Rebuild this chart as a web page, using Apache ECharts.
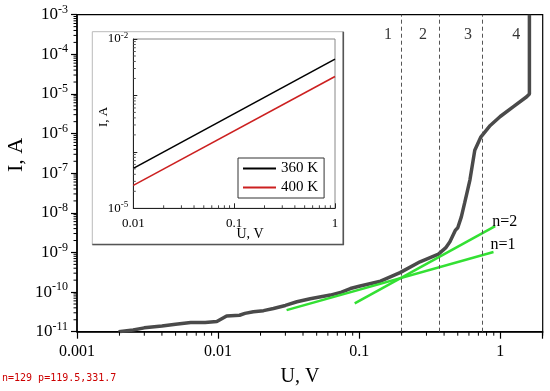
<!DOCTYPE html>
<html>
<head>
<meta charset="utf-8">
<script src="https://cdn.jsdelivr.net/npm/echarts@6/dist/echarts.min.js"></script>
<style>
html,body{margin:0;padding:0;background:#fff;}
#chart{width:550px;height:391px;}
#dbg{position:absolute;left:2px;top:372px;font:10px monospace;color:#c00;}
</style>
</head>
<body>
<div id="chart"></div>
<div id="dbg"></div>
<script>
var dbg=[];
window.onerror=function(m){dbg.push('ERR:'+m);};
// ---- main I-V curve (U in V, I in A) ----
var mainU = [0.00197,0.0025,0.003,0.004,0.005,0.0064,0.0081,0.0098,0.0115,0.0142,0.0155,0.0178,0.021,0.0247,0.03,0.0362,0.045,0.0625,0.075,0.0867,0.1,0.1417,0.195,0.27,0.365,0.41,0.44,0.48,0.50,0.53,0.56,0.58,0.61,0.66,0.73,0.85,1.0,1.24,1.54,1.61,1.61];
var mainI = [1.0e-11,1.1e-11,1.25e-11,1.4e-11,1.55e-11,1.7e-11,1.7e-11,1.8e-11,2.5e-11,2.6e-11,2.9e-11,3.2e-11,3.4e-11,3.85e-11,4.6e-11,5.7e-11,6.8e-11,8.4e-11,1.0e-10,1.23e-10,1.4e-10,1.88e-10,3.1e-10,5.8e-10,9.1e-10,1.3e-9,1.86e-9,3.6e-9,4.2e-9,7.9e-9,1.8e-8,3.1e-8,6.8e-8,3.8e-7,8.3e-7,1.6e-6,2.7e-6,4.8e-6,8.5e-6,1.0e-5,1.0e-3];
// ---- fit lines ----
var n1U = [0.0306, 0.896];
var n1I = [3.5e-11, 1.03e-9];
var n2U = [0.093, 0.921];
var n2I = [5.2e-11, 4.6e-9];
// ---- region boundaries and labels ----
var boundaryU = [0.2, 0.366, 0.745];
var regionNames = ['1','2','3','4'];
var regionU = [0.16, 0.283, 0.59, 1.30];
var regionI = [3.1e-4, 3.1e-4, 3.1e-4, 3.1e-4];
// ---- inset ----
var insetU = [0.01, 1];
var inset360 = [5.1e-5, 4.4e-3];
var inset400 = [2.55e-5, 2.16e-3];
var insetNames = ['360 K','400 K'];

function zip(a,b){return a.map(function(v,i){return [v,b[i]];});}
function logMinor(lo, top){var r=[];for(var e=lo;Math.pow(10,e)<top;e++){for(var k=2;k<=9;k++){var v=k*Math.pow(10,e);if(v<=top*1.0001)r.push(v);}}return r;}
function powLabel(v){var e=Math.round(Math.log10(v));return '{b|10}{s|'+e+'}';}
function decLabel(v){var l=Math.log10(v);if(Math.abs(l-Math.round(l))>1e-6)return '';return String(+v.toPrecision(1));}

var F = 'Liberation Serif';
var mainRich = {b:{fontSize:17,fontFamily:F,color:'#000'},s:{fontSize:12,fontFamily:F,color:'#000',padding:[0,0,10,0]}};
var insetRich = {b:{fontSize:13,fontFamily:F,color:'#000'},s:{fontSize:9,fontFamily:F,color:'#000',padding:[0,0,7,0]}};

var chart = echarts.init(document.getElementById('chart'));
var option = {
  animation:false,
  backgroundColor:'#fff',
  grid:[
    {left:77,top:14.7,right:7.3,bottom:59.3,show:true,borderColor:'#000',borderWidth:1.2},
    {left:133.3,top:39,right:215,bottom:182.7,show:true,borderColor:'#888',borderWidth:1}
  ],
  xAxis:[
    {type:'log',gridIndex:0,position:'bottom',min:0.001,max:2,
     axisLine:{lineStyle:{color:'#000',width:1.5}},
     axisTick:{inside:false,length:7,lineStyle:{color:'#000',width:1.2}},
     axisLabel:{margin:12,fontSize:16,fontFamily:F,color:'#000',formatter:decLabel},
     splitLine:{show:false}},
    {type:'log',gridIndex:1,position:'bottom',min:0.01,max:1,
     axisLine:{lineStyle:{color:'#222',width:1}},
     axisTick:{inside:true,length:5,lineStyle:{color:'#222'}},
     axisLabel:{margin:9,fontSize:13,fontFamily:F,color:'#000',formatter:decLabel},
     splitLine:{show:false}}
  ],
  yAxis:[
    {type:'log',gridIndex:0,position:'left',min:1e-11,max:1e-3,
     axisLine:{lineStyle:{color:'#000',width:1.5}},
     axisTick:{inside:false,length:6,lineStyle:{color:'#000',width:1.2}},
     axisLabel:{margin:9,formatter:powLabel,rich:mainRich},
     splitLine:{show:false}},
    {type:'log',gridIndex:1,position:'left',min:1e-5,max:1e-2,
     axisLine:{lineStyle:{color:'#222',width:1}},
     axisTick:{inside:true,length:4,lineStyle:{color:'#222'}},
     axisLabel:{margin:5,formatter:function(v){var e=Math.round(Math.log10(v));return (e===-2||e===-5)?powLabel(v):'';},rich:insetRich},
     splitLine:{show:false}}
  ],
  legend:{
    data:insetNames,left:238,top:158,orient:'vertical',
    borderColor:'#333',borderWidth:1,padding:[3,6,3,5],
    itemWidth:33,itemHeight:2,icon:'rect',itemGap:4,
    textStyle:{fontSize:15,fontFamily:F,color:'#000'}
  },
  graphic:{elements:[
    {id:'s0',type:'rect',z:-10,shape:{x:92.3,y:31.7,width:251,height:213},style:{fill:'#fff',stroke:'#bbb',lineWidth:1}},
    {id:'s1',type:'polyline',z:-9,shape:{points:[[343.3,31.7],[343.3,244.5],[92.3,244.5]]},style:{stroke:'#555',lineWidth:1.6,fill:null}},
    {id:'s2',type:'text',x:16,y:155,rotation:Math.PI/2,style:{text:'I, A',font:'22px "Liberation Serif"',fill:'#000',align:'center',verticalAlign:'middle'}},
    {id:'s3',type:'text',x:300,y:377,style:{text:'U, V',font:'20px "Liberation Serif"',fill:'#000',align:'center',verticalAlign:'middle'}},
    {id:'s4',type:'text',x:104,y:117,rotation:Math.PI/2,style:{text:'I, A',font:'13px "Liberation Serif"',fill:'#000',align:'center',verticalAlign:'middle'}},
    {id:'s5',type:'text',x:250,y:234,style:{text:'U, V',font:'14px "Liberation Serif"',fill:'#000',align:'center',verticalAlign:'middle'}}
  ]},
  series:[
    {name:'I-V',type:'line',xAxisIndex:0,yAxisIndex:0,data:zip(mainU,mainI),showSymbol:false,
     lineStyle:{color:'#4a4a4a',width:3.5},itemStyle:{color:'#4a4a4a'},z:3,
     markLine:{silent:true,symbol:'none',label:{show:false},
       lineStyle:{type:[4,3],color:'#555',width:1},
       data:boundaryU.map(function(u){return {xAxis:u};})}},
    {name:'n=1',type:'line',xAxisIndex:0,yAxisIndex:0,data:zip(n1U,n1I),showSymbol:false,
     lineStyle:{color:'#33e033',width:2.5},itemStyle:{color:'#33e033'},z:4,
     endLabel:{show:true,formatter:'n=1',fontSize:16,fontFamily:F,color:'#000',distance:0,offset:[-3,-7]}},
    {name:'n=2',type:'line',xAxisIndex:0,yAxisIndex:0,data:zip(n2U,n2I),showSymbol:false,
     lineStyle:{color:'#33e033',width:2.5},itemStyle:{color:'#33e033'},z:4,
     endLabel:{show:true,formatter:'n=2',fontSize:16,fontFamily:F,color:'#000',distance:0,offset:[-3,-4]}},
    {name:'regions',type:'scatter',xAxisIndex:0,yAxisIndex:0,symbolSize:0,
     data:regionU.map(function(u,i){return {value:[u,regionI[i]],name:regionNames[i]};}),
     label:{show:true,position:'inside',formatter:'{b}',fontSize:16,fontFamily:F,color:'#000'}},
    {name:insetNames[0],type:'line',xAxisIndex:1,yAxisIndex:1,data:zip(insetU,inset360),showSymbol:false,
     lineStyle:{color:'#000',width:1.6},itemStyle:{color:'#000'}},
    {name:insetNames[1],type:'line',xAxisIndex:1,yAxisIndex:1,data:zip(insetU,inset400),showSymbol:false,
     lineStyle:{color:'#cc2020',width:1.6},itemStyle:{color:'#cc2020'}}
  ]
};
chart.setOption(option);

var seriesOfGrid = [0, 4];
function toPx(gi, pt){
  var p = null;
  try { p = chart.convertToPixel({seriesIndex:seriesOfGrid[gi]}, pt); } catch(e) { dbg.push('cv:'+e.message); p = null; }
  return p;
}
var tickId = 0;
function minorTicks(gi, vals, fixed, isX, dx, dy, color){
  var out=[];
  vals.forEach(function(v){
    var p = toPx(gi, isX?[v,fixed]:[fixed,v]);
    if (!p || !isFinite(p[0]) || !isFinite(p[1])) return;
    out.push({id:'t'+(tickId++),type:'line',z:100,shape:{x1:p[0],y1:p[1],x2:p[0]+dx,y2:p[1]+dy},style:{stroke:color,lineWidth:1}});
  });
  return out;
}
var ticks = [];
try {
  ticks = [].concat(
    minorTicks(0, logMinor(-3,2), 1e-11, true, 0, 4, '#000'),
    minorTicks(0, logMinor(-11,1e-3), 0.001, false, -3.5, 0, '#000'),
    minorTicks(1, logMinor(-2,1), 1e-5, true, 0, -3, '#444'),
    minorTicks(1, logMinor(-5,1e-2), 0.01, false, 2.5, 0, '#555')
  );
} catch(e) { dbg.push('mk:'+e.message); }
dbg.push('n='+ticks.length+(ticks[0]?(' p='+ticks[0].shape.x1.toFixed(1)+','+ticks[0].shape.y1.toFixed(1)):''));
try { chart.setOption({graphic:{elements:ticks}}); } catch(e) { dbg.push('set:'+e.message); }
document.getElementById('dbg').textContent = dbg.join(' | ');
</script>
</body>
</html>
